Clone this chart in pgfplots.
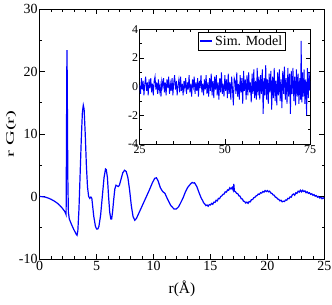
\documentclass[border=0pt]{standalone}
\usepackage{pgfplots}
\pgfplotsset{compat=1.18}
\usepackage{fontspec}
\setmainfont{Liberation Serif}
\usepackage{graphicx}
\begin{document}
\begin{tikzpicture}
\useasboundingbox (-39.7bp,-46bp) rectangle (292.3bp,259bp);
\begin{axis}[
  at={(0bp,0bp)}, anchor=south west,
  scale only axis, width=284.6bp, height=250bp,
  xmin=0, xmax=25, ymin=-10, ymax=30,
  xtick={0,5,...,25}, ytick={-10,0,...,30},
  minor x tick num=4, minor y tick num=1,
  tick align=inside, xtick pos=both, ytick pos=both,
  major tick length=5bp, minor tick length=2.7bp,
  every tick/.style={black, line width=0.6bp},
  axis line style={black, line width=0.8bp},
  /pgf/number format/assume math mode=true,
  ticklabel style={font=\fontsize{14}{16}\selectfont},
  xticklabel style={inner sep=2.5bp},
  yticklabel style={inner sep=2bp},
  xlabel={r(Å)},
  xlabel style={at={(axis description cs:0.5,-0.12)}, anchor=center, font=\fontsize{15.5}{17}\selectfont},
  ylabel={\scalebox{1.8}[1]{r G(r)}},
  ylabel style={at={(axis description cs:-0.1008,0.5)}, anchor=center, font=\fontsize{11.5}{13}\selectfont},
]
\addplot[blue, line width=1.2bp] coordinates {
(0,0) (0.25,-0.03) (0.5,-0.1) (0.75,-0.25) (1.0,-0.45) (1.25,-0.7) (1.5,-1.0) (1.75,-1.4) (2.0,-1.9) (2.2,-2.4) (2.3,-2.8) (2.32,-2.9)
(2.35,8) (2.38,20) (2.40,23.4) (2.43,15) (2.47,3) (2.52,-2.5) (2.6,-3.6) (2.8,-4.5) (3.0,-5.3) (3.2,-6.0) (3.28,-6.2) (3.35,-5.5)
(3.45,-2) (3.55,3.5) (3.65,9) (3.75,13.5) (3.83,14.6) (3.9,14) (4.0,10) (4.1,5) (4.2,1.5) (4.3,0) (4.4,-0.3) (4.5,-0.1) (4.58,-0.3)
(4.65,-1.5) (4.75,-3.2) (4.9,-4.8) (5.0,-5.2) (5.1,-5.2) (5.2,-4.8) (5.35,-3) (5.5,0) (5.65,3) (5.78,4.4) (5.85,4.3) (5.95,3)
(6.05,0) (6.15,-2.5) (6.25,-3.6) (6.32,-3.6) (6.4,-2.5) (6.5,-0.5) (6.6,1.2) (6.7,1.8) (6.8,1.7) (6.9,1.6) (7.0,1.8) (7.15,2.8)
(7.3,3.8) (7.45,4.2) (7.6,4.0) (7.75,3.0) (7.9,1.0) (8.05,-1.5) (8.2,-3.2) (8.35,-3.8) (8.5,-3.5) (8.7,-2.7) (9.0,-1.5) (9.3,-0.3)
(9.6,0.9) (9.9,2.2) (10.1,2.9) (10.25,3.0) (10.4,2.5) (10.6,1.4) (10.8,0.8) (11.0,0.5) (11.2,-0.3) (11.5,-1.4) (11.8,-2.0)
(12.0,-2.0) (12.2,-1.65) (12.4,-0.95) (12.6,-0.2) (12.8,0.75) (13.0,1.45) (13.2,1.9) (13.3,2.1) (13.4,2.25) (13.5,2.15) (13.6,2.2)
(13.7,1.9) (13.8,1.6) (13.9,1.1) (14.0,0.6) (14.1,0.15) (14.2,-0.3) (14.3,-0.6) (14.4,-1.0) (14.5,-1.2) (14.6,-1.45) (14.7,-1.35)
(14.8,-1.55) (14.9,-1.3) (15.0,-1.35) (15.1,-1.1) (15.2,-1.25) (15.3,-0.9) (15.4,-0.95) (15.5,-0.6) (15.6,-0.7) (15.7,-0.3)
(15.8,-0.35) (15.9,0.0) (16.0,0.1) (16.1,0.35) (16.2,0.4) (16.3,0.75) (16.4,0.7) (16.5,1.05) (16.6,1.0) (16.7,1.4) (16.8,1.2)
(16.9,1.45) (17.0,1.0) (17.05,2.0) (17.1,0.9) (17.2,0.75) (17.3,0.5) (17.4,0.45) (17.5,0.1) (17.6,0.05) (17.7,-0.35) (17.8,-0.4)
(17.9,-0.75) (18.0,-0.8) (18.1,-1.05) (18.2,-0.9) (18.3,-1.1) (18.4,-0.8) (18.5,-0.85) (18.6,-0.5) (18.7,-0.5) (18.8,-0.2)
(18.9,-0.15) (19.0,0.1) (19.1,0.15) (19.2,0.4) (19.3,0.35) (19.4,0.6) (19.5,0.55) (19.6,0.8) (19.7,0.7) (19.8,0.95) (19.9,0.8)
(20.0,0.95) (20.1,0.75) (20.2,0.85) (20.3,0.55) (20.4,0.5) (20.5,0.25) (20.6,0.2) (20.7,-0.1) (20.8,-0.15) (20.9,-0.4) (21.0,-0.45)
(21.1,-0.7) (21.2,-0.6) (21.3,-0.85) (21.4,-0.75) (21.5,-0.8) (21.6,-0.55) (21.7,-0.6) (21.8,-0.3) (21.9,-0.35) (22.0,-0.05)
(22.1,-0.1) (22.2,0.3) (22.3,0.4) (22.4,0.2) (22.5,0.6) (22.6,0.5) (22.7,0.85) (22.8,0.7) (22.9,1.0) (23.0,0.75) (23.1,1.0)
(23.2,0.8) (23.3,0.9) (23.4,0.6) (23.5,0.75) (23.6,0.5) (23.7,0.6) (23.8,0.35) (23.9,0.45) (24.0,0.2) (24.1,0.3) (24.2,0.05)
(24.3,0.15) (24.4,-0.1) (24.5,0.0) (24.6,-0.25) (24.7,-0.15) (24.8,-0.35) (24.9,-0.2) (25.0,-0.35)
};
\end{axis}
\begin{axis}[
  at={(100bp,115bp)}, anchor=south west,
  scale only axis, width=170.3bp, height=114.7bp,
  axis background/.style={fill=white},
  xmin=25, xmax=75, ymin=-4, ymax=4,
  xtick={25,50,75}, ytick={-4,-2,...,4},
  minor x tick num=4, minor y tick num=1,
  tick align=inside, xtick pos=both, ytick pos=both,
  major tick length=4.5bp, minor tick length=2.5bp,
  every tick/.style={black, line width=0.6bp},
  axis line style={black, line width=0.8bp},
  /pgf/number format/assume math mode=true,
  ticklabel style={font=\fontsize{12}{14}\selectfont},
  xticklabel style={inner sep=1.5bp},
  yticklabel style={inner sep=1.5bp},
  legend style={at={(axis description cs:0.859,0.979)}, anchor=north east, draw=black, line width=0.6bp,
    font=\fontsize{14}{16}\selectfont, inner sep=1.5bp},
  legend image code/.code={\draw[#1, line width=1.4bp] (0bp,0bp) -- (12bp,0bp);},
]
\addplot[blue, line width=0.9bp] coordinates {
(25.00,0.1) (25.25,-0.5) (25.50,0.6) (25.75,-0.2) (26.00,0.4) (26.25,-0.6) (26.50,0.2) (26.75,0.7) (27.00,-0.3) (27.25,0.3)
(27.50,-0.6) (27.75,0.5) (28.00,-0.1) (28.25,0.6) (28.50,-0.4) (28.75,0.2) (29.00,-0.6) (29.25,0.4) (29.50,0.7) (29.75,-0.2)
(30.00,0.3) (30.25,-0.5) (30.50,0.5) (30.75,-0.3) (31.00,0.1) (31.25,-0.7) (31.50,0.4) (31.75,0.0) (32.00,0.6) (32.25,-0.4)
(32.50,0.3) (32.75,-0.6) (33.00,0.5) (33.25,-0.1) (33.50,0.7) (33.75,-0.5) (34.00,0.2) (34.25,-0.3) (34.50,0.6) (34.75,-0.6)
(35.00,0.3) (35.25,0.8) (35.50,-0.2) (35.75,0.4) (36.00,-0.6) (36.25,0.1) (36.50,0.5) (36.75,-0.4) (37.00,0.7) (37.25,-0.3)
(37.50,0.2) (37.75,-0.6) (38.00,0.4) (38.25,-0.1) (38.50,0.6) (38.75,-0.5) (39.00,0.3) (39.25,-0.2) (39.50,0.8) (39.75,-0.4)
(40.00,0.2) (40.25,-0.7) (40.50,0.5) (40.75,0.0) (41.00,0.7) (41.25,-0.5) (41.50,0.3) (41.75,-0.3) (42.00,0.6) (42.25,-0.7)
(42.50,0.4) (42.75,-0.1) (43.00,0.8) (43.25,-0.4) (43.50,0.2) (43.75,-0.6) (44.00,0.5) (44.25,-0.2) (44.50,0.8) (44.75,-0.5)
(45.00,0.3) (45.25,-0.7) (45.50,0.6) (45.75,-0.3) (46.00,0.9) (46.25,-0.6) (46.50,0.4) (46.75,-0.8) (47.00,0.7) (47.25,-0.2)
(47.50,0.8) (47.75,-0.6) (48.00,0.3) (48.25,-0.9) (48.50,0.6) (48.75,-0.4) (49.00,1.0) (49.25,-0.5) (49.50,0.2) (49.75,-0.7)
(50.00,0.8) (50.25,-0.3) (50.50,0.5) (50.75,-0.8) (51.00,0.9) (51.25,-0.5) (51.50,0.3) (51.75,-0.9) (52.00,0.7) (52.25,-0.2)
(52.50,-1.3) (52.75,0.6) (53.00,0.4) (53.25,-0.5) (53.50,1.0) (53.75,-0.7) (54.00,0.2) (54.25,-0.9) (54.50,0.8) (54.75,-0.4)
(55.00,0.6) (55.25,-1.2) (55.50,1.1) (55.75,-0.3) (56.00,0.5) (56.25,-0.9) (56.50,0.8) (56.75,-0.6) (57.00,1.0) (57.25,-0.4)
(57.50,0.3) (57.75,-1.1) (58.00,0.9) (58.25,-0.5) (58.50,1.2) (58.75,-0.8) (59.00,0.4) (59.25,-0.9) (59.50,1.3) (59.75,-0.6)
(60.00,0.7) (60.25,-0.9) (60.50,0.8) (60.75,-0.5) (61.00,1.2) (61.25,-1.9) (61.50,0.6) (61.75,-0.6) (62.00,1.5) (62.25,-0.9)
(62.50,0.5) (62.75,-1.2) (63.00,0.9) (63.25,-0.4) (63.50,1.1) (63.75,-1.6) (64.00,0.7) (64.25,-0.8) (64.50,1.3) (64.75,-1.0)
(65.00,0.4) (65.25,-1.3) (65.50,1.0) (65.75,-0.6) (66.00,1.2) (66.25,-1.0) (66.50,0.5) (66.75,-1.5) (67.00,1.1) (67.25,-0.5)
(67.50,1.4) (67.75,-0.9) (68.00,0.6) (68.25,-1.2) (68.50,1.3) (68.75,-0.7) (69.00,0.9) (69.25,-1.9) (69.50,1.1) (69.75,-0.5)
(70.00,1.3) (70.25,-1.0) (70.50,0.7) (70.75,-1.3) (71.00,1.2) (71.25,-0.7) (71.50,0.9) (71.75,-1.2) (72.00,0.6) (72.25,-0.9)
(72.40,3.2) (72.60,-1.1) (72.75,1.0) (73.00,-0.7) (73.25,1.2) (73.50,-1.2) (73.75,0.5) (74.00,-2.0) (74.25,1.3) (74.50,-0.8)
(74.75,1.0) (75.00,-0.3)
};
\addlegendentry{Sim. Model}
\end{axis}
\end{tikzpicture}
\end{document}
